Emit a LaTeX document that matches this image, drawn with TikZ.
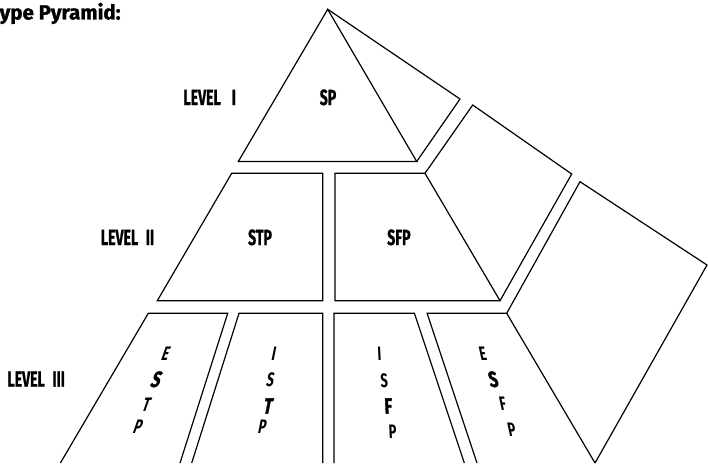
\documentclass[tikz,border=0pt]{standalone}
\usepackage{fontspec}
\setmainfont{Fira Sans}
\newfontfamily\headfont{Fira Sans}[FakeBold=1.2]
\newfontfamily\condfont{Fira Sans}[FakeStretch=0.66]
\newfontfamily\labfont{Fira Sans}[FakeStretch=0.64, FakeBold=0.8]
\newfontfamily\heavyfont{Fira Sans}[FakeStretch=0.72, FakeBold=1.5]
\begin{document}
\begin{tikzpicture}[x=1pt,y=-1pt,
  panel/.style={draw=black, line width=1.2pt, line join=miter},
  heading/.style={font=\headfont\bfseries\fontsize{20.5}{20.5}\selectfont, inner sep=0pt, anchor=base west},
  lvl/.style={font=\labfont\bfseries\fontsize{22}{22}\selectfont, inner sep=0pt, anchor=base west},
  word/.style={font=\labfont\bfseries\fontsize{22}{22}\selectfont, inner sep=0pt, anchor=base},
  ltr/.style={font=\condfont\bfseries\fontsize{19.5}{19.5}\selectfont, inner sep=0pt, transform shape},
  bigltr/.style={font=\heavyfont\bfseries\fontsize{22}{22}\selectfont, inner sep=0pt, transform shape},
  slA/.style={xslant=0.35},
  slB/.style={xslant=0.2},
  slC/.style={xslant=-0.05},
  slD/.style={xslant=-0.22}]
\useasboundingbox (0,0) rectangle (708,463);
% heading
\node[heading] (title) at (-0.5,19.5) {ype Pyramid:};
% Level I
\draw[panel] (327.7,9.3) -- (416.7,161.5) -- (238.3,161.5) -- cycle;
\draw[panel] (327.7,9.3) -- (460,99) -- (416.7,161.5);
% Level II
\draw[panel] (231.7,173.3) -- (322.7,173.3) -- (322.7,300.7) -- (157.3,300.7) -- cycle;
\draw[panel] (335,173.3) -- (425,173.3) -- (500,300.7) -- (335,300.7) -- cycle;
\draw[panel] (425,173.3) -- (472.7,105) -- (571.7,174) -- (500,300.7);
% Level III
\draw[panel] (60.4,463) -- (148.3,313.3) -- (227.7,313.3) -- (180,463);
\draw[panel] (191.7,463) -- (239,313.3) -- (322.7,313.3) -- (322.7,463);
\draw[panel] (334,463) -- (334,313.3) -- (414.4,313.3) -- (464.3,463);
\draw[panel] (477,463) -- (427.1,313.3) -- (506.7,313.3) -- (595,463);
\draw[panel] (506.7,313.3) -- (580,181.7) -- (707,265) -- (595,463);
% labels
\node[lvl] (l1) at (183.3,105) {LEVEL\hspace{0.5em}I};
\node[word] (sp) at (328,105) {SP};
\node[lvl] (l2) at (100.7,245) {LEVEL\hspace{0.35em}II};
\node[word] (stp) at (260,245) {STP};
\node[word] (sfp) at (398.9,245) {SFP};
\node[lvl] (l3) at (7.3,386.7) {LEVEL\hspace{0.35em}III};
% ESTP
\node[ltr,slA] (a1) at (166,353.3) {E};
\node[bigltr,slA] (a2) at (156.7,379.3) {S};
\node[ltr,slA] (a3) at (146.7,405) {T};
\node[ltr,slA] (a4) at (138.3,426.7) {P};
% ISTP
\node[ltr,slB] (b1) at (274,353.3) {I};
\node[ltr,slB] (b2) at (270.7,380) {S};
\node[bigltr,slB] (b3) at (268.3,406) {T};
\node[ltr,slB] (b4) at (262.7,426.7) {P};
% ISFP
\node[ltr,slC] (c1) at (379.3,353.3) {I};
\node[ltr,slC] (c2) at (384.3,380.7) {S};
\node[bigltr,slC] (c3) at (388.3,406) {F};
\node[ltr,slC] (c4) at (392.7,431.7) {P};
% ESFP
\node[ltr,slD] (d1) at (482.7,353.3) {E};
\node[bigltr,slD] (d2) at (493.3,379.3) {S};
\node[ltr,slD] (d3) at (502.7,403.3) {F};
\node[ltr,slD] (d4) at (511.7,429.3) {P};
\end{tikzpicture}
\end{document}
